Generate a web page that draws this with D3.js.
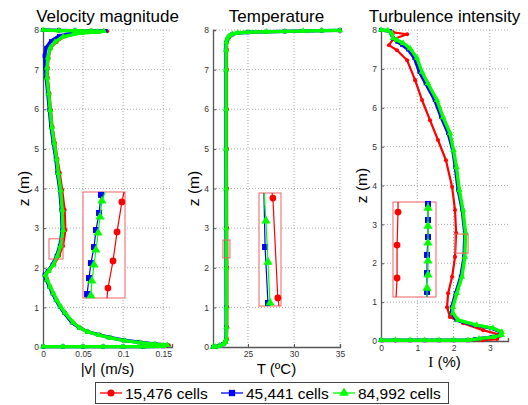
<!DOCTYPE html>
<html lang="en">
<head>
<meta charset="utf-8">
<title>Mesh comparison profiles</title>
<script src="https://d3js.org/d3.v7.min.js"></script>
<style>
  body { margin: 0; background: #fff; }
  text { font-family: "Liberation Sans", Arial, sans-serif; }
</style>
</head>
<body>
<div id="chart"></div>
<script>
// ---------------- data ----------------
const seriesNames = ["15,476 cells", "45,441 cells", "84,992 cells"];
const seriesColors = ["#ff0000", "#0000ff", "#00ff00"];
const seriesSymbols = [d3.symbolCircle, d3.symbolSquare, d3.symbolTriangle];

const zTicks = [0, 1, 2, 3, 4, 5, 6, 7, 8];
const velTicks = [0, 0.05, 0.1, 0.15];
const velTickLabels = ["0", "0.05", "0.1", "0.15"];
const tempTicks = [25, 30, 35];
const tempTickLabels = ["25", "30", "35"];
const tiTicks = [0, 1, 2, 3];
const tiTickLabels = ["0", "1", "2", "3"];

// velocity magnitude [v (m/s), z (m)]
const velRed = [[0,8],[0.02,7.99],[0.04,7.985],[0.06,7.98],[0.08,7.97],[0.07,7.955],[0.05,7.93],[0.028,7.84],[0.017,7.7],[0.01,7.55],[0.007,7.3],[0.006,7.05],[0.006,6.8],[0.008,6.4],[0.01,5.98],[0.012,5.55],[0.015,5.15],[0.018,4.75],[0.021,4.39],[0.024,3.96],[0.027,3.46],[0.028,2.95],[0.025,2.55],[0.02,2.3],[0.014,2.08],[0.008,1.92],[0.004,1.84],[0.005,1.72],[0.009,1.52],[0.013,1.35],[0.017,1.19],[0.022,1.02],[0.028,0.86],[0.038,0.62],[0.047,0.48],[0.057,0.38],[0.071,0.3],[0.085,0.23],[0.103,0.16],[0.122,0.11],[0.141,0.07],[0.157,0.045],[0.15,0.02],[0.125,0.01],[0.1,0.01],[0.075,0.01],[0.05,0.01],[0.025,0.01],[0,0.01]];
const velBlue = [[0,8],[0.02,7.99],[0.04,7.985],[0.06,7.98],[0.078,7.975],[0.066,7.955],[0.04,7.93],[0.02,7.85],[0.01,7.72],[0.004,7.55],[0.002,7.35],[0.003,7.05],[0.004,6.8],[0.006,6.4],[0.008,5.98],[0.01,5.55],[0.013,5.15],[0.016,4.75],[0.018,4.39],[0.021,3.96],[0.023,3.46],[0.024,2.95],[0.021,2.55],[0.017,2.3],[0.012,2.08],[0.006,1.92],[0.002,1.82],[0.004,1.7],[0.008,1.52],[0.012,1.35],[0.016,1.19],[0.021,1.02],[0.0265,0.86],[0.036,0.62],[0.045,0.49],[0.055,0.39],[0.069,0.31],[0.083,0.24],[0.101,0.17],[0.12,0.12],[0.139,0.08],[0.154,0.05],[0.15,0.02],[0.125,0.01],[0.1,0.01],[0.075,0.01],[0.05,0.01],[0.025,0.01],[0,0.01]];
const velGreen = [[0,8],[0.02,7.985],[0.04,7.98],[0.06,7.975],[0.076,7.97],[0.068,7.95],[0.046,7.92],[0.025,7.83],[0.015,7.7],[0.009,7.55],[0.006,7.3],[0.005,7.05],[0.005,6.8],[0.007,6.4],[0.009,5.98],[0.011,5.55],[0.014,5.15],[0.017,4.75],[0.019,4.39],[0.022,3.96],[0.024,3.46],[0.025,2.95],[0.022,2.55],[0.018,2.3],[0.013,2.08],[0.007,1.92],[0.003,1.82],[0.005,1.7],[0.009,1.52],[0.013,1.35],[0.017,1.19],[0.022,1.02],[0.0275,0.86],[0.0375,0.62],[0.046,0.48],[0.056,0.38],[0.07,0.3],[0.084,0.23],[0.102,0.16],[0.121,0.11],[0.14,0.07],[0.155,0.05],[0.15,0.02],[0.125,0.01],[0.1,0.01],[0.075,0.01],[0.05,0.01],[0.025,0.01],[0,0.01]];
const velZoomBox = { x: [0.0075, 0.025], z: [2.22, 2.73] };
const velInsetRed = [[0.0175,2.22],[0.0179,2.268],[0.02,2.398],[0.0217,2.538],[0.0237,2.682],[0.0246,2.73]];
const velInsetBlue = [[0.00875,2.22],[0.0092,2.239],[0.01,2.316],[0.0108,2.388],[0.0121,2.465],[0.0129,2.547],[0.0142,2.629],[0.015,2.716],[0.0152,2.73]];
const velInsetGreen = [[0.0104,2.22],[0.0108,2.232],[0.0112,2.302],[0.0121,2.379],[0.0129,2.451],[0.0138,2.533],[0.0146,2.61],[0.0154,2.687],[0.0167,2.73]];

// temperature [T (degC), z (m)]
const tempRed = [[35,7.99],[33,7.985],[31,7.975],[29,7.965],[27,7.955],[25,7.945],[23.9,7.93],[23.3,7.9],[23.0,7.85],[22.82,7.78],[22.74,7.7],[22.72,7.5],[22.72,7],[22.72,6],[22.72,5],[22.73,4],[22.74,3],[22.76,2],[22.76,1],[22.75,0.5],[22.72,0.2],[22.6,0.12],[22.3,0.07],[21.9,0.03],[21.5,0.01],[21.2,0]];
const tempBlue = [[35,7.99],[33,7.985],[31,7.975],[29,7.965],[27,7.955],[25,7.942],[23.9,7.925],[23.3,7.89],[22.92,7.83],[22.72,7.76],[22.62,7.68],[22.59,7.5],[22.59,7],[22.59,6],[22.59,5],[22.6,4],[22.61,3],[22.62,2],[22.63,1],[22.63,0.5],[22.61,0.2],[22.52,0.12],[22.28,0.07],[21.88,0.03],[21.48,0.01],[21.2,0]];
const tempGreen = [[35,7.99],[33,7.985],[31,7.975],[29,7.965],[27,7.955],[25,7.945],[23.9,7.93],[23.3,7.9],[22.95,7.85],[22.75,7.78],[22.65,7.7],[22.62,7.5],[22.62,7],[22.62,6],[22.62,5],[22.63,4],[22.64,3],[22.65,2],[22.66,1],[22.66,0.5],[22.64,0.2],[22.55,0.12],[22.3,0.07],[21.9,0.03],[21.5,0.01],[21.2,0]];
const tempZoomBox = { x: [22.28, 23.04], z: [2.25, 2.7] };
const tempInsetRed = [[22.73,2.7],[22.76,2.68],[22.93,2.282],[22.97,2.25]];
const tempInsetBlue = [[22.45,2.7],[22.49,2.485],[22.59,2.262],[22.6,2.25]];
const tempInsetGreen = [[22.46,2.7],[22.52,2.589],[22.59,2.425],[22.66,2.262],[22.67,2.25]];

// turbulence intensity [I (%), z (m)]
const tiRed = [[0,8],[0.33,7.94],[0.72,7.89],[0.33,7.76],[0.22,7.61],[0.44,7.48],[0.72,7.22],[0.94,6.71],[1.13,6.2],[1.35,5.68],[1.57,5.17],[1.79,4.65],[1.96,3.96],[2.04,3.37],[2.07,2.78],[2.04,2.16],[1.96,1.65],[1.85,1.23],[1.82,0.87],[1.9,0.62],[2.26,0.46],[2.81,0.28],[3.31,0.15],[3.2,0.05],[2.8,0.02],[2.4,0.02],[2.0,0.02],[1.6,0.02],[1.2,0.02],[0.8,0.02],[0.4,0.02],[0,0.02]];
const tiBlue = [[0,8],[0.25,7.97],[0.33,7.79],[0.45,7.7],[0.58,7.62],[0.75,7.5],[0.92,7.28],[1.06,6.92],[1.23,6.63],[1.48,6.2],[1.66,5.76],[1.85,5.35],[1.98,4.91],[2.05,4.47],[2.13,3.88],[2.24,3.37],[2.31,2.78],[2.29,2.16],[2.2,1.65],[2.06,1.23],[1.95,0.87],[1.95,0.72],[2.08,0.54],[2.58,0.41],[3.05,0.33],[3.3,0.23],[3.3,0.15],[3.05,0.1],[2.6,0.05],[2.4,0.02],[2.0,0.02],[1.6,0.02],[1.2,0.02],[0.8,0.02],[0.4,0.02],[0,0.02]];
const tiGreen = [[0,8],[0.19,7.99],[0.3,7.91],[0.33,7.79],[0.44,7.74],[0.61,7.66],[0.8,7.53],[0.99,7.28],[1.13,6.92],[1.29,6.63],[1.54,6.2],[1.71,5.76],[1.9,5.35],[2.0,4.91],[2.08,4.47],[2.16,3.88],[2.26,3.37],[2.33,2.78],[2.31,2.16],[2.23,1.65],[2.09,1.23],[1.98,0.87],[1.98,0.72],[2.12,0.54],[2.64,0.41],[3.09,0.33],[3.33,0.23],[3.33,0.15],[3.09,0.1],[2.7,0.06],[2.4,0.02],[2.0,0.02],[1.6,0.02],[1.2,0.02],[0.8,0.02],[0.4,0.02],[0,0.02]];
const tiZoomBox = { x: [2.04, 2.4], z: [2.26, 2.75] };
const tiInsetRed = [[2.082,2.75],[2.082,2.698],[2.074,2.528],[2.074,2.358],[2.066,2.26]];
const tiInsetBlue = [[2.333,2.75],[2.333,2.74],[2.333,2.657],[2.333,2.569],[2.325,2.477],[2.325,2.384],[2.325,2.286],[2.325,2.26]];
const tiInsetGreen = [[2.333,2.75],[2.333,2.719],[2.333,2.626],[2.333,2.539],[2.333,2.446],[2.333,2.374],[2.325,2.306],[2.325,2.26]];

// ---------------- layout ----------------
const W = 528, H = 405;
const panels = [
  { title: "Velocity magnitude", xlabel: ["|v| (m/s)"], left: 43, right: 172, top: 30, bottom: 347,
    xDomain: [0, 0.161], xTicks: velTicks, xLabels: velTickLabels, xlabY: 374,
    series: [velRed, velBlue, velGreen], box: velZoomBox,
    inset: [velInsetRed, velInsetBlue, velInsetGreen], insetPx: [83, 125, 192, 298] },
  { title: "Temperature", xlabel: ["T (ºC)"], left: 213, right: 340, top: 30, bottom: 347,
    xDomain: [21.2, 35], xTicks: tempTicks, xLabels: tempTickLabels, xlabY: 374,
    series: [tempRed, tempBlue, tempGreen], box: tempZoomBox,
    inset: [tempInsetRed, tempInsetBlue, tempInsetGreen], insetPx: [259, 281, 193, 306] },
  { title: "Turbulence intensity", xlabel: ["I", " (%)"], left: 381, right: 508, top: 30, bottom: 341,
    xDomain: [0, 3.5], xTicks: tiTicks, xLabels: tiTickLabels, xlabY: 367,
    series: [tiRed, tiBlue, tiGreen], box: tiZoomBox,
    inset: [tiInsetRed, tiInsetBlue, tiInsetGreen], insetPx: [393, 436, 202, 297] }
];

const svg = d3.select("#chart").append("svg")
    .attr("width", W).attr("height", H);

svg.append("rect").attr("width", W).attr("height", H).attr("fill", "#fff");

const boxColor = "#f06060";
const lineWidths = [2.2, 3.4, 3.4];
const markSizes = [13, 16, 18];

panels.forEach(function(p) {
  const x = d3.scaleLinear().domain(p.xDomain).range([p.left, p.right]);
  const y = d3.scaleLinear().domain([0, 8]).range([p.bottom, p.top]);
  const g = svg.append("g");

  // dotted grid
  g.selectAll(".gx").data(p.xTicks.filter(t => t > p.xDomain[0] + 1e-9)).enter()
    .append("line")
      .attr("x1", d => x(d)).attr("x2", d => x(d))
      .attr("y1", p.top).attr("y2", p.bottom)
      .attr("stroke", "#a8a8a8").attr("stroke-dasharray", "1,2");
  g.selectAll(".gy").data(zTicks.filter(t => t > 0)).enter()
    .append("line")
      .attr("x1", p.left).attr("x2", p.right)
      .attr("y1", d => y(d)).attr("y2", d => y(d))
      .attr("stroke", "#a8a8a8").attr("stroke-dasharray", "1,2");

  // axes (left + bottom)
  const xAxis = g.append("g").attr("transform", "translate(0," + p.bottom + ")")
      .call(d3.axisBottom(x).tickValues(p.xTicks).tickFormat((d, i) => p.xLabels[i]).tickSize(-3).tickPadding(4));
  const yAxis = g.append("g").attr("transform", "translate(" + p.left + ",0)")
      .call(d3.axisLeft(y).tickValues(zTicks).tickSize(-3).tickPadding(4));
  [xAxis, yAxis].forEach(a => {
    a.select(".domain").attr("stroke", "#555").attr("stroke-width", 1.3);
    a.selectAll(".tick line").attr("stroke", "#555");
    a.selectAll(".tick text").attr("fill", "#333").style("font-size", "8.5px")
      .style("font-family", "'Liberation Sans', Arial, sans-serif");
  });

  // profiles
  const line = d3.line().x(d => x(d[0])).y(d => y(d[1]));
  p.series.forEach(function(s, k) {
    g.append("path").datum(s)
      .attr("d", line)
      .attr("fill", "none")
      .attr("stroke", seriesColors[k])
      .attr("stroke-width", lineWidths[k])
      .attr("stroke-linejoin", "round");
    g.selectAll(".m" + k).data(s).enter().append("path")
      .attr("transform", d => "translate(" + x(d[0]) + "," + y(d[1]) + ")")
      .attr("d", d3.symbol(seriesSymbols[k], markSizes[k]))
      .attr("fill", seriesColors[k]);
  });

  // small zoom box
  g.append("rect")
    .attr("x", x(p.box.x[0])).attr("y", y(p.box.z[1]))
    .attr("width", x(p.box.x[1]) - x(p.box.x[0]))
    .attr("height", y(p.box.z[0]) - y(p.box.z[1]))
    .attr("fill", "none").attr("stroke", boxColor).attr("stroke-width", 1);

  // inset (magnified view of the small box)
  const ix = d3.scaleLinear().domain(p.box.x).range([p.insetPx[0], p.insetPx[1]]);
  const iy = d3.scaleLinear().domain(p.box.z).range([p.insetPx[3], p.insetPx[2]]);
  const ig = g.append("g");
  ig.append("rect")
    .attr("x", p.insetPx[0]).attr("y", p.insetPx[2])
    .attr("width", p.insetPx[1] - p.insetPx[0]).attr("height", p.insetPx[3] - p.insetPx[2])
    .attr("fill", "#fff").attr("stroke", boxColor).attr("stroke-width", 1);
  const iline = d3.line().x(d => ix(d[0])).y(d => iy(d[1]));
  p.inset.forEach(function(s, k) {
    ig.append("path").datum(s)
      .attr("d", iline).attr("fill", "none")
      .attr("stroke", seriesColors[k]).attr("stroke-width", 1.2);
    ig.selectAll(".im" + k)
      .data(s.filter(d => d[1] > p.box.z[0] + 1e-6 && d[1] < p.box.z[1] - 1e-6))
      .enter().append("path")
      .attr("transform", d => "translate(" + ix(d[0]) + "," + iy(d[1]) + ")")
      .attr("d", d3.symbol(seriesSymbols[k], 36))
      .attr("fill", seriesColors[k]);
  });

  // titles and labels
  const cx = (p.left + p.right) / 2;
  svg.append("text")
    .attr("x", cx).attr("y", 22)
    .attr("text-anchor", "middle")
    .style("font-size", "17px")
    .text(p.title);

  svg.append("text")
    .attr("transform", "translate(" + (p.left - 14) + "," + ((p.top + p.bottom) / 2) + ") rotate(-90)")
    .attr("text-anchor", "middle")
    .style("font-size", "15.5px")
    .text("z (m)");

  const xl = svg.append("text")
    .attr("x", cx).attr("y", p.xlabY)
    .attr("text-anchor", "middle")
    .style("font-size", "15px");
  if (p.xlabel.length > 1) {
    xl.append("tspan").style("font-family", "'Liberation Serif', serif").text(p.xlabel[0]);
    xl.append("tspan").text(p.xlabel[1]);
  } else {
    xl.text(p.xlabel[0]);
  }
});

// legend
const lg = svg.append("g");
lg.append("rect")
  .attr("x", 95.5).attr("y", 382.5).attr("width", 353).attr("height", 21)
  .attr("fill", "#fff").attr("stroke", "#444").attr("stroke-width", 1);
const legX = [100, 221, 333];
seriesNames.forEach(function(name, k) {
  lg.append("line")
    .attr("x1", legX[k]).attr("x2", legX[k] + 22)
    .attr("y1", 393).attr("y2", 393)
    .attr("stroke", seriesColors[k]).attr("stroke-width", 1.3);
  lg.append("path")
    .attr("transform", "translate(" + (legX[k] + 11) + ",393)")
    .attr("d", d3.symbol(seriesSymbols[k], 40))
    .attr("fill", seriesColors[k]);
  lg.append("text")
    .attr("x", legX[k] + 25).attr("y", 398.5)
    .style("font-size", "15.5px")
    .text(name);
});
</script>
</body>
</html>
